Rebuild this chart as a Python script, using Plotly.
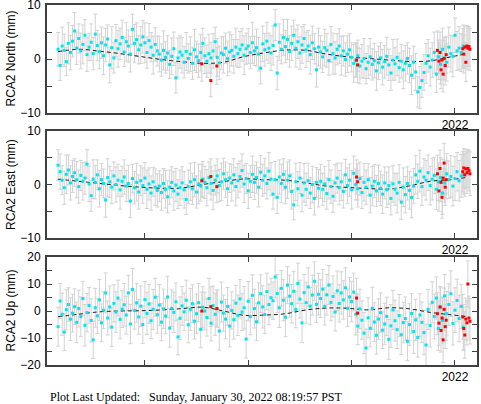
import plotly.graph_objects as go

# ---------------- data ----------------
START_YEAR = 2018.16
STEP_YEARS = 0.02

north = [1.8, -1.2, 2.4, 1.6, -0.5, 2.9, 1.2, 3.3, 5.2, 2.0,
         3.8, 1.5, 2.7, 4.4, 0.8, 2.2, 3.1, 1.0, 4.6, 2.5,
         1.4, 3.0, 0.6, 2.6, 3.7, -1.1, 2.1, 0.2, 3.4, 1.9,
         2.8, 4.0, 1.3, 3.2, 2.4, 0.9, 5.5, 2.9, 3.6, 1.7,
         2.6, 4.1, 3.0, 1.2, 3.4, 2.2, 0.7, 2.7, 1.5,
         0.9, -0.2, 1.6, 0.3, 1.1, -1.0, 0.5, 1.9, -3.5, 0.2, 1.3,
         0.7, -0.6, 1.4, 0.1, 0.9, -0.8, 1.7, 0.4, -0.3, 1.2, 2.9,
         0.6, -0.4, 1.0, 0.2, 1.5, 3.2, 0.3, -0.7, 1.1, 0.8, 2.0, 0.1, 1.3,
         1.6, 0.5, 2.2, 1.0, 1.8, 2.6, 0.7, 1.9, 2.4, 1.2, 3.0, 1.5, 2.1, 0.9, -1.7, 2.8, 1.7, 3.3, 2.0, 1.1,
         2.5, 6.3, -2.6, 3.1, 1.8, 4.0, 2.3, 3.6, 1.4, 2.9, 4.4, 2.0, 3.2, 1.1, 2.6, 3.8, 1.7, 2.4, 0.8, 3.0, 1.9, -2.0, 2.2,
         1.3, 0.4, 2.1, 1.6, -0.3, 2.7, 1.0, 0.2, 1.8, 2.4, 0.6, 1.5, -0.1, 0.9, 1.7,
         0.3, -0.8, -0.2, 0.6, -1.3, -0.4, 0.1, -1.8, -0.6, 0.4, -1.0, -0.3, -2.2, -0.7, 0.2, -1.5, -0.5, 0.5,
         -1.1, -2.6, -0.2, -0.9, 0.3, -1.6, -0.4, -2.0, -0.8, 0.1, -1.2, -3.0, -0.6, -2.4, -6.1, -5.3, -4.0,
         -2.5, -0.8, 0.6, -1.5, -0.2, 1.2, -2.8, 0.4, -1.0, 1.8, 0.2, -0.6, 2.2, 1.0, 0.5, 4.4, 1.5, 2.0, 1.2, 2.4]

east = [3.6, 2.4, 0.8, -0.6, 1.9, 2.7, 0.3, 1.5, 2.2, 0.9,
        -0.4, 1.7, 0.6, 1.2, 3.8, 0.1, -2.1, 1.0, 0.4, 1.8,
        -0.8, 0.9, 0.2, -2.9, 1.3, 0.5, -0.5, 1.6, 0.0, 0.8,
        -1.0, 0.6, 1.4, -0.3, 0.2, -3.1, 1.1, -0.6, 0.4, -1.4,
        0.7, -0.2, 1.2, -0.9, 0.1, -1.6, 0.5, -0.5, -1.1,
        -0.3, -1.5, 0.2, -0.9, -2.3, -0.5, 0.4, -1.2, -0.1, -1.8, -0.6, 0.3, -1.0, -2.8, -0.4, 0.5, -0.8, 0.9, -1.4, 0.1, -0.3, 1.0,
        0.4, -0.6, 1.3, 0.2, -1.1, 0.8, 1.6, -0.2, 0.5, 2.0, 0.9, -0.8, 1.2, 0.3, 1.8, -0.4, 0.7, 1.5, 2.6, 0.1,
        1.1, -1.2, 0.6, 1.9, 0.4, 1.3, -0.5, 2.3, 0.8, 1.6, 0.2, 2.5, 1.0,
        -1.8, 0.9, -2.4, 1.4, 0.2, 1.9, -0.5, 0.8, 1.6, -1.3, -3.8, 0.5, -0.8, 1.2, -2.0, 0.3, -0.9, 0.7, -1.6, 0.0, -2.6, 0.4, -0.7,
        0.6, -0.9, 0.1, -1.7, 0.9, -0.4, -2.2, 0.3, 1.2, -0.6,
        0.5, -1.3, 1.8, -0.2, 0.8, -1.0, 2.1, 0.0, -0.8, 1.1,
        -1.5, 0.4, -0.5, 0.9, -2.0, -0.3, 0.6, -1.2, 0.2, -0.7,
        -1.8, 0.3, -1.0, -0.2, -2.6, 0.1, -0.9, -1.6, 0.4, -3.3,
        -0.5, -1.9, 0.2, -1.1, -2.4, -0.3,
        1.8, 0.6, 2.5, -0.4, 1.4, 0.8, 2.2, -0.2, 1.0, 1.7,
        -0.9, 0.5, 1.3, -1.6, 0.3, 2.0, 0.9, 1.5, -0.3, 1.1,
        2.4, 0.7, 1.6, 1.9]

up = [-5.8, 3.7, -1.2, -7.8, 0.5, 2.4, -3.0, -0.8, 1.6, -4.2,
      0.9, -2.1, 4.6, -5.3, -0.6, 2.0, -3.5, -10.7, 1.2, -1.8,
      4.1, -4.4, 0.3, 6.7, -2.6, 1.5, -6.0, 2.8, -0.4, 4.8,
      -3.1, 0.7, 2.3, -1.5, 6.7, -4.8, 8.0, 0.2, 3.0, -2.2,
      1.8, -5.0, 4.2, -0.9, 2.6, -3.6, 0.6, 5.1, -1.4,
      2.2, -4.1, 0.8, -1.9, 5.2, -6.3, 1.0, -0.5, 3.4, -9.6,
      -2.7, 1.9, -0.3, 4.0, -5.1, 0.6, 2.7, -3.8, -1.0, 3.1,
      -6.8, 1.4, 0.0, -2.4, 4.6, -4.5, 2.0, -1.2, 0.9, -7.4,
      3.3, -0.8, -3.0, 1.7, -5.6,
      0.2, -3.2, 2.9, -1.6, 4.5, -0.4, 1.2, -10.4, 3.6, -2.1,
      5.8, 0.9, -4.0, 3.0, 6.4, 1.5, -1.3, 7.2, 2.4, 4.9,
      3.8, 12.6, 6.5, 1.2, 8.4, 4.0, -2.3, 9.6, 5.5, 2.7,
      7.3, 0.6, 10.2, 4.4, -4.4, 6.8, 3.1, 8.9, 1.8, 5.9,
      11.0, 2.5, 6.2,
      4.6, 8.1, 1.7, 6.0, 9.6, 3.2, 5.4, -0.4, 7.5, 2.8,
      6.7, 4.1, 8.6, 1.0, 5.2, 3.5, 7.0,
      -1.2, -5.6, 0.8, -3.4, -8.2, -13.7, -2.5, -6.4, 1.0, -4.1,
      -9.0, -3.0, -0.6, -7.1, -4.8, -2.0, -10.5, -5.5, 0.4, -3.6,
      -6.9, -1.7, -8.8, -4.3, -2.8, -11.2, -5.0, -0.9, -7.6, -3.3,
      -9.8, -1.5,
      -4.2, -8.0, -12.6, 0.6, -5.4, 3.2, -2.0, 4.8, -6.5, 1.4,
      -3.5, 5.6, -1.0, 2.4, 6.4, -4.6, 0.3, 3.9, -2.8, 1.7, -6.0]

north_err = [3.1, 2.8, 3.5, 3.0, 2.6, 3.8, 3.2, 2.9, 3.4, 3.0,
             2.7, 3.3, 3.6, 2.9, 3.1, 2.5, 3.4, 3.0, 3.7, 2.8,
             3.2, 2.9, 3.5, 3.1, 2.6, 3.3, 3.9, 2.8, 3.0, 3.4,
             2.9, 3.2, 2.7, 3.6, 3.0, 3.3, 2.8, 3.5, 3.1, 2.6,
             3.4, 3.0, 3.7, 2.9, 3.2, 2.7, 3.5, 3.1, 2.8, 3.3,
             3.0, 3.6, 2.9, 3.2, 2.6, 3.4, 3.1, 2.8, 3.7, 3.0,
             3.3, 2.9, 3.5, 2.7, 3.2, 3.0, 3.8, 2.9, 3.1, 3.4,
             2.8, 3.3, 3.0, 3.6, 2.9, 3.2, 2.7, 3.5, 3.1, 3.0,
             3.4, 2.8, 3.2, 3.7, 2.9, 3.1, 3.5, 2.6, 3.3, 3.0,
             3.6, 2.9, 3.2, 3.0, 3.8, 2.7, 3.4, 3.1, 2.9, 3.3,
             3.0, 3.5, 2.8, 3.2, 3.6, 2.9, 3.1, 3.4, 2.7, 3.3,
             3.0, 3.7, 2.9, 3.2, 2.8, 3.5, 3.1, 3.0, 3.4, 2.6,
             3.3, 2.9, 3.6, 3.1, 2.8, 3.2, 3.5, 3.0, 2.9, 3.4,
             3.1, 2.7, 3.3, 3.8, 3.0, 2.9, 3.2, 3.6, 2.8, 3.1,
             3.4, 3.0, 2.7, 3.5, 3.2, 2.9, 3.3, 3.1, 3.7, 2.8,
             3.0, 3.4, 2.9, 3.2, 3.6, 3.1, 2.8, 3.3, 3.0, 3.5,
             2.9, 3.2, 3.8, 3.0, 3.4, 2.7, 3.1, 3.5, 3.3, 2.9,
             3.2, 3.6, 3.0, 3.4, 2.8, 3.9, 3.1, 3.3, 3.7, 3.0,
             3.5, 3.2, 3.8, 3.4, 3.1, 3.6, 3.9, 3.3, 3.5, 3.7,
             3.4, 3.8, 3.2, 3.6, 4.0, 3.5, 3.9]

east_err = [2.9, 3.3, 2.7, 3.1, 3.6, 2.8, 3.2, 3.0, 2.6, 3.4,
            3.1, 2.8, 3.5, 3.0, 2.7, 3.3, 2.9, 3.6, 3.1, 2.8,
            3.4, 3.0, 2.7, 3.2, 3.5, 2.9, 3.1, 2.6, 3.3, 3.0,
            3.6, 2.8, 3.2, 2.9, 3.4, 3.1, 2.7, 3.0, 3.5, 3.2,
            2.8, 3.3, 2.9, 3.6, 3.0, 3.2, 2.7, 3.4, 3.1, 2.9,
            3.3, 2.8, 3.5, 3.0, 3.2, 2.9, 3.6, 3.1, 2.7, 3.3,
            3.0, 3.4, 2.8, 3.1, 3.5, 2.9, 3.2, 3.0, 3.7, 2.8,
            3.3, 3.0, 3.4, 2.9, 3.1, 3.6, 2.8, 3.2, 3.0, 3.5,
            2.9, 3.3, 3.1, 2.7, 3.4, 3.0, 3.6, 3.2, 2.9, 3.1,
            3.5, 2.8, 3.3, 3.0, 3.4, 3.2, 2.9, 3.7, 3.1, 3.0,
            3.3, 2.9, 3.5, 3.1, 2.8, 3.4, 3.0, 3.2, 3.6, 2.9,
            3.1, 3.4, 3.0, 3.3, 2.8, 3.5, 3.2, 2.9, 3.1, 3.6,
            3.0, 3.3, 2.9, 3.4, 3.1, 2.8, 3.5, 3.2, 3.0, 3.3,
            2.9, 3.6, 3.1, 3.0, 3.4, 2.8, 3.2, 3.5, 3.1, 2.9,
            3.3, 3.0, 3.6, 3.2, 2.9, 3.4, 3.1, 3.0, 3.5, 3.2,
            3.0, 3.3, 3.7, 3.1, 2.9, 3.4, 3.2, 3.6, 3.0, 3.3,
            3.5, 3.1, 3.4, 3.0, 3.7, 3.3, 3.2, 3.6, 3.4, 3.1,
            3.5, 3.8, 3.3, 3.6, 3.2, 3.9, 3.5, 3.4, 3.7, 3.3,
            3.6, 3.9, 3.4, 3.8, 3.5, 3.7, 4.0, 3.6, 3.8, 3.5,
            3.9, 3.7, 4.1, 3.6, 3.8, 4.0, 3.7]

up_err = [7.2, 6.5, 7.8, 6.9, 7.4, 6.2, 7.9, 7.0, 6.6, 7.5,
          6.8, 7.3, 6.4, 7.7, 7.1, 6.7, 8.0, 6.9, 7.2, 6.5,
          7.6, 7.0, 6.8, 7.4, 6.3, 7.8, 7.1, 6.9, 7.5, 6.6,
          7.2, 6.8, 7.9, 7.0, 6.5, 7.3, 7.7, 6.9, 7.1, 6.4,
          7.5, 7.0, 6.7, 7.8, 7.2, 6.6, 7.4, 7.0, 6.8, 7.6,
          6.9, 7.3, 6.5, 7.7, 7.1, 6.8, 7.5, 7.0, 6.6, 7.9,
          7.2, 6.9, 7.4, 6.7, 7.8, 7.0, 6.5, 7.3, 7.1, 6.8,
          7.6, 7.0, 6.9, 7.5, 6.6, 7.2, 7.8, 6.8, 7.1, 7.4,
          6.7, 7.3, 7.0, 7.7, 6.9, 7.2, 6.6, 7.5, 7.1, 6.8,
          7.9, 7.0, 7.3, 6.7, 7.6, 7.2, 6.9, 7.4, 7.0, 7.8,
          7.1, 6.8, 7.5, 7.2, 6.9, 7.7, 7.0, 7.3, 6.6, 7.6,
          7.2, 6.9, 7.8, 7.1, 7.4, 6.8, 7.5, 7.0, 7.3, 6.7,
          7.6, 7.1, 6.9, 7.4, 7.2, 6.8, 7.7, 7.0, 7.3, 6.9,
          7.5, 7.2, 6.8, 7.6, 7.0, 7.3, 6.9, 7.8, 7.1, 7.4,
          6.8, 7.2, 7.5, 7.0, 7.7, 6.9, 7.3, 7.1, 7.6, 7.0,
          7.4, 6.9, 7.8, 7.2, 7.0, 7.5, 7.3, 6.8, 7.7, 7.1,
          7.4, 7.9, 7.2, 7.6, 7.0, 7.8, 7.3, 7.5, 8.0, 7.2,
          7.7, 7.4, 8.1, 7.6, 7.3, 7.9, 7.5, 8.2, 7.7, 7.4,
          8.0, 7.6, 8.3, 7.8, 8.1, 7.5, 8.4, 7.9, 8.2, 7.7,
          8.5, 8.0, 8.3, 7.9, 8.6, 8.2, 8.4]

# flagged (red) solutions
red_t = [2019.551, 2019.638, 2019.696, 2021.048, 2021.058,
         2021.830, 2021.845, 2021.855, 2021.865, 2021.875, 2021.885, 2021.895, 2021.905, 2021.915,
         2022.075, 2022.085, 2022.095, 2022.105, 2022.115, 2022.125, 2022.135, 2022.145]
red_north = [-0.9, -4.0, -1.3, -0.2, -1.1,
             1.6, -0.4, 1.2, -2.0, -0.2, -2.8, 0.1, -1.2, 0.8,
             1.9, 0.9, 2.2, -0.6, 2.4, 2.0, 2.3, 1.8]
red_east = [0.7, 1.5, -0.4, 1.4, 0.5,
            2.0, -1.2, 3.0, 0.4, -2.4, 1.2, 4.0, -0.5, 0.9,
            2.4, 3.1, 1.8, 2.9, 2.2, 3.0, 2.6, 2.0]
red_up = [0.0, 1.6, 0.9, 4.8, -0.8,
          -1.0, -4.5, 1.5, -7.2, -2.6, -10.7, 0.6, -5.8, -3.4,
          -2.2, -6.5, -8.9, -3.0, -4.4, 10.0, -2.6, -3.8]
red_north_err = [3.2, 3.0, 3.4, 3.1, 3.3, 3.6, 3.4, 3.8, 3.5, 3.7, 3.3, 3.9, 3.6, 3.4,
                 3.7, 3.5, 3.9, 3.6, 3.8, 4.0, 3.7, 3.9]
red_east_err = [3.1, 3.3, 3.0, 3.2, 3.4, 3.5, 3.8, 3.4, 3.6, 3.9, 3.5, 3.7, 3.4, 3.6,
                3.8, 3.6, 4.0, 3.7, 3.9, 3.5, 3.8, 4.1]
red_up_err = [7.0, 7.4, 6.9, 7.3, 7.1, 7.8, 8.2, 7.6, 8.0, 7.7, 8.4, 7.9, 8.1, 7.5,
              8.3, 8.0, 8.6, 7.8, 8.2, 8.5, 8.1, 8.4]

# model (dashed) curve
model_t = [2018.16, 2018.36, 2018.56, 2018.76, 2018.96, 2019.16, 2019.36, 2019.56, 2019.76,
           2019.96, 2020.16, 2020.36, 2020.56, 2020.76, 2020.96, 2021.16, 2021.36, 2021.56,
           2021.76, 2021.96, 2022.12]
model_north = [1.35, 1.8, 1.45, 1.0, 0.45, -0.1, -0.5, -0.8, -0.6, 0.45, 1.15, 1.65, 1.6,
               0.9, 0.4, 0.1, -0.2, -0.45, -0.35, 0.4, 1.0]
model_east = [1.0, 0.6, 0.2, -0.2, -0.5, -0.7, -0.65, 0.0, 0.55, 1.05, 0.9, 0.8, 0.3,
              -0.3, -0.55, -0.75, -0.85, -0.25, 0.6, 0.9, 1.35]
model_up = [-2.1, -1.2, -0.3, 0.0, 0.1, 0.4, 0.9, 1.4, 0.0, -1.6, -1.5, -1.0, 0.4,
            1.1, 1.0, 0.4, 1.2, 0.8, -0.5, -1.4, -2.1]

year_ticks = [2019, 2020, 2021, 2022]
year_labels = ["", "", "", "2022"]
titles = ["RCA2 North (mm)", "RCA2 East (mm)", "RCA2 Up (mm)"]
updated_text = "Plot Last Updated:\u00a0\u00a0\u00a0Sunday, January 30, 2022 08:19:57 PST"

for a in (north_err, east, east_err, up, up_err):
    assert len(a) == len(north), (len(a), len(north))
for a in (red_north, red_east, red_up, red_north_err, red_east_err, red_up_err):
    assert len(a) == len(red_t)

t = [round(START_YEAR + STEP_YEARS * i, 4) for i in range(len(north))]

# ---------------- figure ----------------
W, H = 481, 404
ML, MR = 47, 4
panels_px = [(5, 113), (131, 238), (257, 365)]
yranges = [[-10, 10], [-10, 10], [-20, 20]]
yticks = [[-10, -5, 0, 5, 10], [-10, -5, 0, 5, 10], [-20, -15, -10, -5, 0, 5, 10, 15, 20]]
ylabels = [["\u221210", "", "0", "", "10"], ["\u221210", "", "0", "", "10"],
           ["\u221220", "", "\u221210", "", "0", "", "10", "", "20"]]

series = [(north, north_err, red_north, red_north_err, model_north),
          (east, east_err, red_east, red_east_err, model_east),
          (up, up_err, red_up, red_up_err, model_up)]

FRAME = "#404040"
GRAY = "#d2d2d2"
CYAN = "#00E5F2"

fig = go.Figure()
for k, (vals, errs, rv, re, mv) in enumerate(series):
    xa = "x" if k == 0 else f"x{k+1}"
    ya = "y" if k == 0 else f"y{k+1}"
    clear = dict(size=1, color="rgba(0,0,0,0)")
    fig.add_trace(go.Scatter(x=t, y=vals, mode="markers", marker=clear, xaxis=xa, yaxis=ya,
                             error_y=dict(type="data", array=errs, color=GRAY, thickness=1, width=2),
                             hoverinfo="skip"))
    fig.add_trace(go.Scatter(x=red_t, y=rv, mode="markers", marker=clear, xaxis=xa, yaxis=ya,
                             error_y=dict(type="data", array=re, color=GRAY, thickness=1, width=2),
                             hoverinfo="skip"))
    fig.add_trace(go.Scatter(x=model_t, y=mv, mode="lines", xaxis=xa, yaxis=ya,
                             line=dict(color="#202020", width=1, dash="4px,3px", shape="spline")))
    fig.add_trace(go.Scatter(x=t, y=vals, mode="markers", xaxis=xa, yaxis=ya,
                             marker=dict(symbol="square", size=3, color=CYAN, line=dict(width=0))))
    fig.add_trace(go.Scatter(x=red_t, y=rv, mode="markers", xaxis=xa, yaxis=ya,
                             marker=dict(symbol="square", size=3, color="#FF0000", line=dict(width=0))))

axis_common = dict(showline=True, linecolor=FRAME, linewidth=2, mirror="ticks", ticks="inside",
                   ticklen=5, tickwidth=1, tickcolor=FRAME, showgrid=False, zeroline=False,
                   automargin=False, tickfont=dict(size=12, color="black"),
                   ticklabeloverflow="allow")
layout = {}
for k in range(3):
    top, bot = panels_px[k]
    dom = [1 - bot / H, 1 - top / H]
    sx = "" if k == 0 else str(k + 1)
    layout[f"xaxis{sx}"] = dict(axis_common, domain=[0, 1], range=[2018.053, 2022.213],
                                anchor=f"y{sx}", tickvals=year_ticks, ticktext=year_labels)
    layout[f"yaxis{sx}"] = dict(axis_common, domain=dom, range=yranges[k], anchor=f"x{sx}",
                                tickvals=yticks[k], ticktext=ylabels[k], ticklabelstandoff=2)

fig.update_layout(**layout)
annotations = []
for k in range(3):
    top, bot = panels_px[k]
    annotations.append(dict(text=titles[k], xref="paper", yref="paper",
                            x=(10.5 - ML) / (W - ML - MR), y=1 - (top + bot) / 2 / H,
                            xanchor="center", yanchor="middle", textangle=-90, showarrow=False,
                            font=dict(size=12, color="black")))
annotations.append(dict(text=updated_text, xref="paper", yref="paper",
                        x=(48 - ML) / (W - ML - MR), y=1 - 397 / H, xanchor="left", yanchor="middle",
                        showarrow=False, font=dict(family="Liberation Serif, Times New Roman, serif",
                                                   size=12, color="black")))
fig.update_layout(width=W, height=H, margin=dict(l=ML, r=MR, t=0, b=0, pad=0),
                  paper_bgcolor="white", plot_bgcolor="white", showlegend=False,
                  font=dict(family="Liberation Sans, Arial, sans-serif", size=12, color="black"),
                  annotations=annotations)

fig.write_html("out.html", config={"displayModeBar": False},
               post_script="document.body.style.margin='0';document.body.style.overflow='hidden';")
